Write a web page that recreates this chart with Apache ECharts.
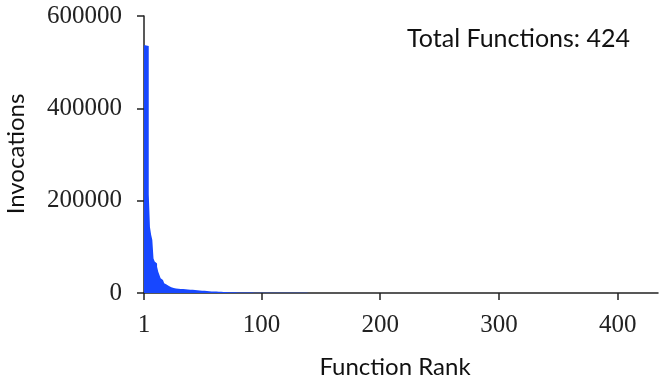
<!DOCTYPE html>
<html>
<head>
<meta charset="utf-8">
<script src="https://cdn.jsdelivr.net/npm/echarts@6/dist/echarts.min.js"></script>
<style>
  html, body { margin: 0; padding: 0; background: #fff; }
  #chart { width: 665px; height: 386px; }
</style>
</head>
<body>
<div id="chart"></div>
<script>
// invocations per function, sorted by rank (1..424)
// ranks 1-69: the visible part of the curve
const headValues = [
  537000, 536000, 536000, 535000, 214000, 143000, 126000, 115000, 75000, 68000,
  64000, 57000, 46000, 39000, 32000, 28000, 24500, 21000, 18500, 17000,
  15000, 13000, 12200, 11600, 11000, 10500,
  9800, 9500, 9200, 9000, 8800, 8600, 8400, 8200, 8000, 7800, 7600, 7400, 7200, 7000, 6800,
  6500, 6300, 6100, 5900, 5700, 5500, 5300, 5100, 4900, 4700, 4500, 4300, 4100, 3900,
  3700, 3500, 3400, 3300, 3200, 3100, 3000, 2900, 2800, 2700, 2600, 2400, 2200, 2000
];
// ranks 70-424: long tail, hardly visible
const tailValues = [
  1900, 1800, 1700, 1650, 1600, 1500, 1450, 1400, 1350, 1300,
  1250, 1200, 1150, 1100, 1060, 1020, 980, 950, 920, 890,
  860, 830, 800, 780, 760, 740, 720, 700, 680, 660,
  640, 620, 600, 585, 570, 555, 540, 525, 510, 500,
  490, 480, 470, 460, 450, 440, 430, 420, 410, 400,
  392, 384, 376, 368, 360, 352, 345, 338, 331, 324,
  317, 310, 304, 298, 292, 286, 280, 274, 268, 262,
  257, 252, 247, 242, 237, 232, 227, 222, 218, 214,
  210, 206, 202, 198, 194, 190, 186, 182, 179, 176,
  173, 170, 167, 164, 161, 158, 155, 152, 150, 148,
  146, 144, 142, 140, 138, 136, 134, 132, 130, 128,
  126, 124, 122, 120, 118, 116, 114, 112, 110, 108,
  106, 104, 102, 100, 99, 98, 96, 94, 92, 90,
  89, 88, 86, 84, 82, 80, 79, 78, 76, 74,
  72, 70, 69, 68, 67, 66, 65, 64, 63, 62,
  61, 60, 59, 58, 57, 56, 55, 54, 53, 52,
  51, 50, 49, 48, 47, 46, 45, 44, 43, 42,
  41, 40, 40, 39, 38, 38, 37, 36, 35, 34,
  33, 33, 32, 31, 30, 30, 29, 28, 28, 27,
  26, 26, 25, 25, 24, 24, 23, 22, 22, 21,
  21, 20, 20, 19, 19, 18, 18, 17, 17, 16,
  16, 15, 15, 15, 14, 14, 13, 13, 13, 12,
  12, 12, 11, 11, 11, 10, 10, 10, 9, 9,
  9, 9, 8, 8, 8, 8, 7, 7, 7, 7,
  7, 6, 6, 6, 6, 6, 6, 5, 5, 5,
  5, 5, 5, 5, 4, 4, 4, 4, 4, 4,
  4, 4, 3, 3, 3, 3, 3, 3, 3, 3,
  3, 3, 3, 2, 2, 2, 2, 2, 2, 2,
  2, 2, 2, 2, 2, 2, 2, 2, 2, 2,
  2, 2, 2, 1, 1, 1, 1, 1, 1, 1,
  1, 1, 1, 1, 1, 1, 1, 1, 1, 1,
  1, 1, 1, 1, 1, 1, 1, 1, 1, 1,
  1, 1, 1, 1, 1, 1, 1, 1, 1, 1,
  1, 1, 1, 1, 1, 1, 1, 1, 1, 1,
  1, 1, 1, 1, 1, 1, 1, 1, 1, 1,
  1, 1, 1, 1, 1
];
const xTicks = [1, 100, 200, 300, 400];
const totalLabel = 'Total Functions: 424';

const invocations = headValues.concat(tailValues);
// each function's bar starts at its rank and is one rank wide
const barData = invocations.map((v, i) => [i + 1, v]);

const serifFont = '"Liberation Serif", "DejaVu Serif", serif';
const sansFont = 'Lato, "Open Sans", sans-serif';
const axisColor = '#222';
const barColor = '#1747ff';

const chart = echarts.init(document.getElementById('chart'));
chart.setOption({
  animation: false,
  grid: { left: 144, top: 16, right: 7, bottom: 93 },
  xAxis: {
    type: 'value',
    min: 1,
    max: 434,
    splitLine: { show: false },
    axisLine: { lineStyle: { color: axisColor, width: 1.5 } },
    axisTick: { show: true, length: 7, customValues: xTicks, lineStyle: { color: axisColor, width: 1.5 } },
    axisLabel: {
      customValues: xTicks,
      margin: 20,
      color: '#222',
      fontFamily: serifFont,
      fontSize: 25
    }
  },
  yAxis: {
    type: 'value',
    min: 0,
    max: 600000,
    interval: 200000,
    splitLine: { show: false },
    axisLine: { show: true, lineStyle: { color: axisColor, width: 1.5 } },
    axisTick: { show: true, length: 7, lineStyle: { color: axisColor, width: 1.5 } },
    axisLabel: {
      margin: 22,
      color: '#222',
      fontFamily: serifFont,
      fontSize: 25,
      formatter: v => String(v)
    }
  },
  series: [{
    // stepped area = bars that touch each other, without seams
    type: 'line',
    step: 'end',
    data: barData,
    showSymbol: false,
    lineStyle: { width: 0, color: barColor },
    areaStyle: { color: barColor, opacity: 1 },
    z: 1
  }],
  graphic: [
    {
      type: 'text', x: 16, y: 154, rotation: Math.PI / 2,
      style: { text: 'Invocations', font: '24px ' + sansFont, fill: '#111', align: 'center', verticalAlign: 'middle' }
    },
    {
      type: 'text', x: 395, y: 367,
      style: { text: 'Function Rank', font: '24px ' + sansFont, fill: '#111', align: 'center', verticalAlign: 'middle' }
    },
    {
      type: 'text', x: 630, y: 39,
      style: { text: totalLabel, font: '25px ' + sansFont, fill: '#111', align: 'right', verticalAlign: 'middle' }
    }
  ]
});
</script>
</body>
</html>
